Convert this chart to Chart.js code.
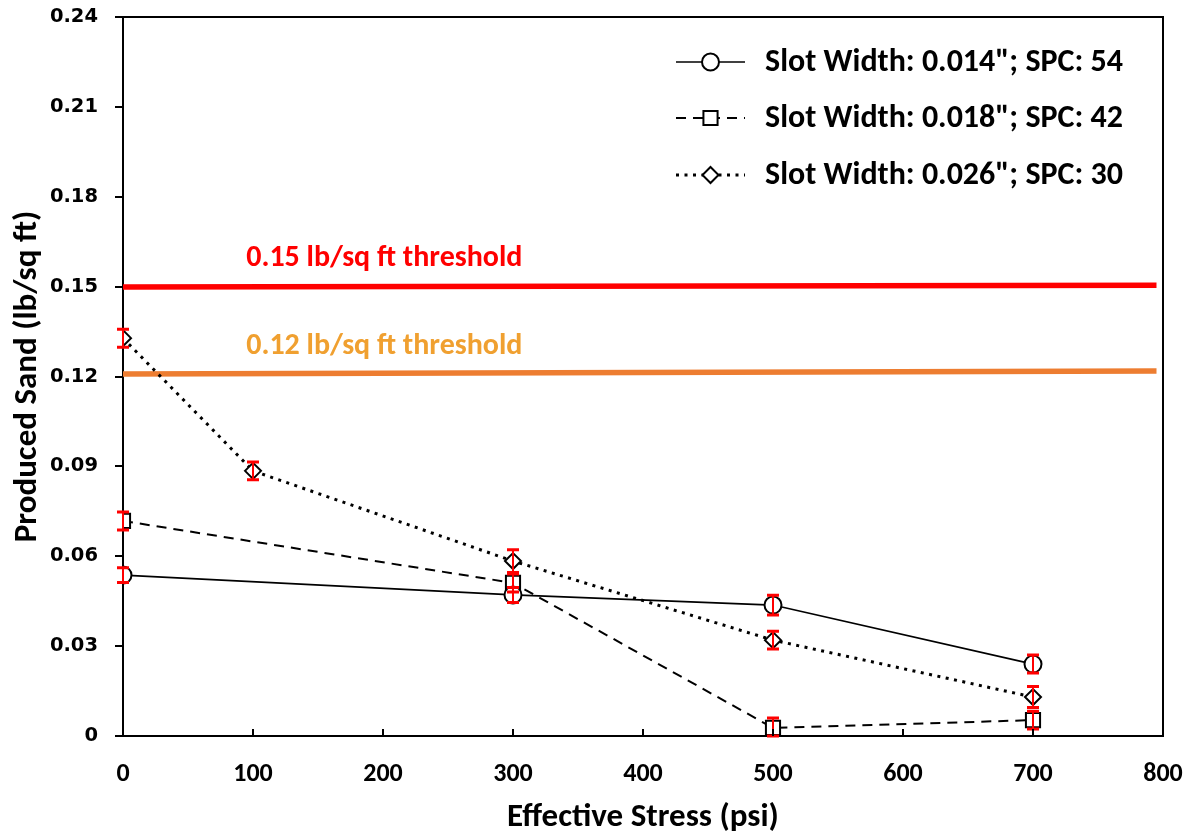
<!DOCTYPE html>
<html><head><meta charset="utf-8">
<script src="https://cdn.jsdelivr.net/npm/chart.js@4.4.1/dist/chart.umd.min.js"></script>
<style>html,body{margin:0;padding:0;background:#fff}canvas{display:block}</style>
</head><body>
<canvas id="c" width="1192" height="834"></canvas>
<script>
// ---- data ----
const seriesLabels = ['Slot Width: 0.014"; SPC: 54', 'Slot Width: 0.018"; SPC: 42', 'Slot Width: 0.026"; SPC: 30'];
const stressA = [0, 300, 500, 700];
const sandA   = [0.0537, 0.0471, 0.0437, 0.0240];
const errA    = [0.0025, 0.0025, 0.0033, 0.0030];
const stressB = [0, 300, 500, 700];
const sandB   = [0.0718, 0.0511, 0.0027, 0.0053];
const errB    = [0.0030, 0.0030, 0.0033, 0.0030];
const stressC = [0, 100, 300, 500, 700];
const sandC   = [0.1328, 0.0885, 0.0584, 0.0320, 0.0130];
const errC    = [0.0030, 0.0030, 0.0038, 0.0030, 0.0035];
const thrX      = [0, 795];
const thrRed    = [0.1499, 0.1505];
const thrOrange = [0.1208, 0.1218];
const thrLabels = ['0.15 lb/sq ft threshold', '0.12 lb/sq ft threshold'];
const thrLabelX = 201;
const xTickValues = [0, 100, 200, 300, 400, 500, 600, 700, 800];
const yTickLabels = ['0', '0.03', '0.06', '0.09', '0.12', '0.15', '0.18', '0.21', '0.24'];

const pts = (xs, ys) => xs.map((x, i) => ({x: x, y: ys[i]}));
const LFONT = 'Carlito, Calibri, Lato, sans-serif';

const errorBars = {
  id: 'errorBars',
  afterDatasetsDraw(chart) {
    const ctx = chart.ctx, xs = chart.scales.x, ys = chart.scales.y;
    ctx.save();
    ctx.strokeStyle = '#FF0000';
    chart.data.datasets.forEach(ds => {
      if (!ds.errors) return;
      ds.data.forEach((p, i) => {
        const e = ds.errors[i];
        const px = xs.getPixelForValue(p.x);
        const top = ys.getPixelForValue(p.y + e);
        const bot = ys.getPixelForValue(Math.max(0, p.y - e));
        ctx.lineWidth = 2;
        ctx.beginPath(); ctx.moveTo(px, top); ctx.lineTo(px, bot); ctx.stroke();
        ctx.lineWidth = 3;
        ctx.beginPath();
        ctx.moveTo(px - 6, top); ctx.lineTo(px + 6, top);
        ctx.moveTo(px - 6, bot); ctx.lineTo(px + 6, bot);
        ctx.stroke();
      });
    });
    ctx.restore();
  }
};

function marker(ctx, style, x, y, r) {
  ctx.beginPath();
  if (style === 'circle') ctx.arc(x, y, r, 0, Math.PI * 2);
  else if (style === 'rect') { const s = r * Math.SQRT1_2; ctx.rect(x - s, y - s, 2 * s, 2 * s); }
  else { ctx.moveTo(x, y - r); ctx.lineTo(x + r, y); ctx.lineTo(x, y + r); ctx.lineTo(x - r, y); ctx.closePath(); }
  ctx.fillStyle = '#fff'; ctx.fill();
  ctx.lineWidth = 2; ctx.strokeStyle = '#000'; ctx.setLineDash([]); ctx.stroke();
}

const decor = {
  id: 'decor',
  afterDraw(chart) {
    const ctx = chart.ctx, a = chart.chartArea, xs = chart.scales.x, ys = chart.scales.y;
    ctx.save();
    // frame top & right
    ctx.strokeStyle = '#000'; ctx.lineWidth = 2;
    ctx.beginPath();
    ctx.moveTo(a.left - 8, a.top); ctx.lineTo(a.right, a.top); ctx.lineTo(a.right, a.bottom);
    ctx.stroke();
    // inward x ticks
    ctx.beginPath();
    xTickValues.forEach(v => {
      const px = xs.getPixelForValue(v);
      ctx.moveTo(px, a.bottom); ctx.lineTo(px, a.bottom - 7);
    });
    ctx.stroke();
    // threshold labels
    ctx.font = 'bold 30px ' + LFONT;
    ctx.textAlign = 'center'; ctx.textBaseline = 'middle';
    ctx.fillStyle = '#FF0000';
    ctx.fillText(thrLabels[0], xs.getPixelForValue(thrLabelX), ys.getPixelForValue(thrRed[0]) - 28);
    ctx.fillStyle = '#F0A030';
    ctx.fillText(thrLabels[1], xs.getPixelForValue(thrLabelX), ys.getPixelForValue(thrOrange[0]) - 28);
    // legend
    const lx0 = a.right - 487, lx1 = a.right - 418, tx = a.right - 398;
    const rows = [a.top + 45, a.top + 101, a.top + 158];
    ctx.font = 'bold 32px ' + LFONT;
    ctx.textAlign = 'left';
    [0, 1, 2].forEach(i => {
      const ds = chart.data.datasets[i];
      const y = rows[i];
      ctx.strokeStyle = '#000';
      ctx.lineWidth = ds.borderWidth;
      ctx.setLineDash(ds.borderDash || []);
      ctx.beginPath(); ctx.moveTo(lx0, y); ctx.lineTo(lx1, y); ctx.stroke();
      marker(ctx, ds.pointStyle, (lx0 + lx1) / 2, y, ds.pointRadius);
      ctx.fillStyle = '#000';
      ctx.fillText(ds.label, tx, y + 1);
    });
    ctx.restore();
  }
};

new Chart(document.getElementById('c'), {
  type: 'line',
  data: {
    datasets: [
      { label: seriesLabels[0], data: pts(stressA, sandA), errors: errA,
        borderColor: '#000', borderWidth: 1.6, pointStyle: 'circle', pointRadius: 8.5,
        pointBackgroundColor: '#fff', pointBorderColor: '#000', pointBorderWidth: 2, tension: 0, order: 1 },
      { label: seriesLabels[1], data: pts(stressB, sandB), errors: errB,
        borderColor: '#000', borderWidth: 2, borderDash: [10, 7], pointStyle: 'rect', pointRadius: 10,
        pointBackgroundColor: '#fff', pointBorderColor: '#000', pointBorderWidth: 2, tension: 0, order: 2 },
      { label: seriesLabels[2], data: pts(stressC, sandC), errors: errC,
        borderColor: '#000', borderWidth: 3, borderDash: [3, 5.5], pointStyle: 'rectRot', pointRadius: 8,
        pointBackgroundColor: '#fff', pointBorderColor: '#000', pointBorderWidth: 2, tension: 0, order: 3 },
      { label: 'red', data: pts(thrX, thrRed), borderColor: '#FF0000', borderWidth: 5.5,
        pointRadius: 0, tension: 0, order: 10 },
      { label: 'orange', data: pts(thrX, thrOrange), borderColor: '#ED7D31', borderWidth: 5.5,
        pointRadius: 0, tension: 0, order: 11 }
    ]
  },
  options: {
    responsive: false,
    animation: false,
    devicePixelRatio: 1,
    layout: { padding: { top: 17, right: 29, left: 0, bottom: 0 } },
    plugins: { legend: { display: false }, tooltip: { enabled: false } },
    scales: {
      x: {
        type: 'linear', min: 0, max: 800,
        afterBuildTicks: s => { s.ticks = xTickValues.map(v => ({value: v})); },
        afterFit: s => { s.height = 98; s.paddingLeft = 0; s.paddingRight = 0; },
        ticks: { color: '#000', font: { family: LFONT, weight: 'bold', size: 26 }, padding: 23, maxRotation: 0 },
        grid: { display: true, drawOnChartArea: false, drawTicks: false },
        border: { display: true, color: '#000', width: 2 },
        title: { display: true, text: 'Effective Stress (psi)', color: '#000',
                 font: { family: LFONT, weight: 'bold', size: 33, lineHeight: 1 }, padding: { top: 0, bottom: 0 } }
      },
      y: {
        type: 'linear', min: 0, max: 0.24,
        afterBuildTicks: s => { s.ticks = yTickLabels.map(t => ({value: parseFloat(t)})); },
        afterFit: s => { s.width = 123; s.paddingTop = 0; s.paddingBottom = 0; },
        ticks: { color: '#000', font: { family: 'DejaVu Sans', weight: 'bold', size: 19.5 }, padding: 17,
                 callback: (v, i) => yTickLabels[i] },
        grid: { display: true, drawOnChartArea: false, drawTicks: true, tickLength: 8, color: '#000', lineWidth: 2 },
        border: { display: true, color: '#000', width: 2 },
        title: { display: true, text: 'Produced Sand (lb/sq ft)', color: '#000',
                 font: { family: LFONT, weight: 'bold', size: 33, lineHeight: 1 }, padding: { top: 11, bottom: 0 } }
      }
    }
  },
  plugins: [errorBars, decor]
});
</script>
</body></html>
